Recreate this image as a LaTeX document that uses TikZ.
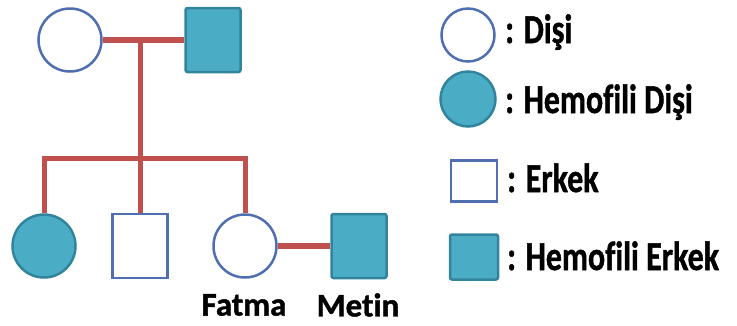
\documentclass[tikz,border=0pt]{standalone}
\usepackage{fontspec}
\setmainfont{Carlito}[Ligatures=NoCommon, BoldFeatures={FakeBold=1.2}]
\definecolor{hemo}{HTML}{4BACC6}
\definecolor{hemoline}{HTML}{31849B}
\definecolor{blueline}{HTML}{4F6FB0}
\definecolor{redline}{HTML}{C0504D}
\tikzset{
  female/.style={circle, draw=blueline, line width=2.5pt, fill=white, minimum size=63pt, inner sep=0pt},
  femaleH/.style={circle, draw=hemoline, line width=2.5pt, fill=hemo, minimum size=63pt, inner sep=0pt},
  male/.style={rectangle, draw=blueline, line width=2.5pt, fill=white, minimum width=55pt, minimum height=64pt, inner sep=0pt},
  maleH/.style={rectangle, rounded corners=2pt, draw=hemoline, line width=2.5pt, fill=hemo, minimum width=55pt, minimum height=64pt, inner sep=0pt},
  link/.style={draw=redline, line width=5.5pt},
  drop/.style={draw=redline, line width=5pt},
  lbl/.style={font=\fontsize{33}{36}\selectfont\bfseries, inner sep=0pt},
  leg/.style={font=\fontsize{32}{36}\selectfont\bfseries, inner sep=0pt, anchor=base west},
}
\begin{document}
\begin{tikzpicture}[x=1pt,y=-1pt]
\useasboundingbox (0,0) rectangle (737,325);
% parents
\node[female] (mother) at (70,40) {};
\node[maleH] (father) at (213,40) {};
\coordinate (mline) at (140,40);
\coordinate (sib) at (140,158);
\draw[link] (mother.east) -- (father.west);
% children
\node[femaleH] (c1) at (44,246) {};
\node[male] (c2) at (140,246) {};
\node[female] (fatma) at (245,246) {};
\node[maleH] (metin) at (359,246) {};
\draw[drop] (mline) -- (c2.north);
\draw[drop] (c1.north) |- (sib) -| (fatma.north);
\draw[link] (fatma.east) -- (metin.west);
\node[lbl] (lf) at (244,305) {Fatma};
\node[lbl] (lm) at (358,305) {Metin};
% legend
\node[female, minimum size=53pt] (k1) at (468,35) {};
\node[femaleH, minimum size=55pt] (k2) at (468,99) {};
\node[male, minimum width=46pt, minimum height=41pt] (k3) at (474,181) {};
\node[maleH, minimum width=48pt, minimum height=45pt] (k4) at (474,257) {};
\node[leg] (t1) at (505,43) {\scalebox{1}[1.28]{: Dişi}};
\node[leg] (t2) at (505,113) {\scalebox{1}[1.28]{: Hemofili Dişi}};
\node[leg] (t3) at (507,192) {\scalebox{1}[1.28]{: Erkek}};
\node[leg] (t4) at (507,270) {\scalebox{1}[1.28]{: Hemofili Erkek}};
\end{tikzpicture}
\end{document}
